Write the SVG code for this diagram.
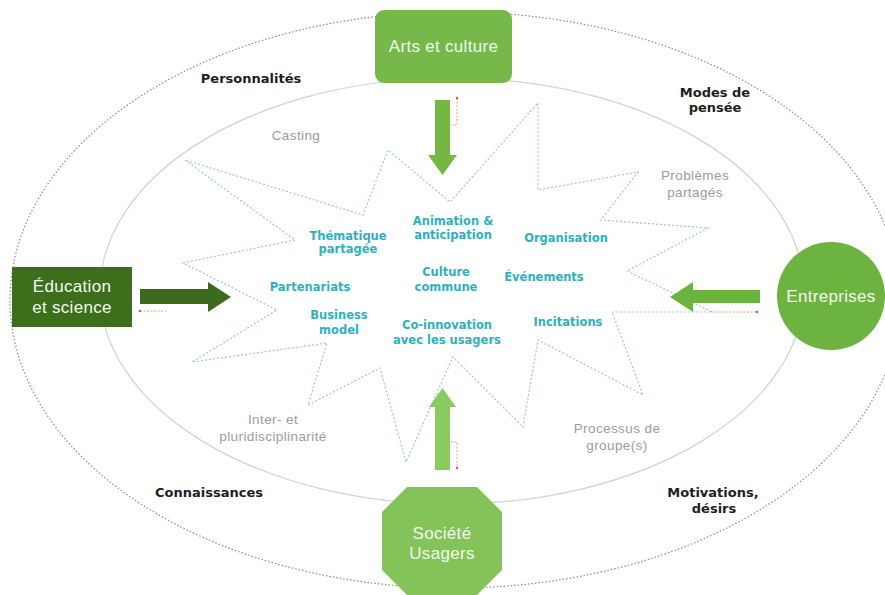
<svg xmlns="http://www.w3.org/2000/svg" width="885" height="595" viewBox="0 0 885 595">
<style>
.teal{font-family:"DejaVu Sans",Verdana,sans-serif;font-weight:bold;font-size:11.5px;fill:#2fb0bd;text-anchor:middle}
.gray{font-family:"Liberation Sans",Arial,sans-serif;font-size:13.5px;letter-spacing:0.4px;fill:#9c9c9c;text-anchor:middle}
.blk{font-family:"DejaVu Sans",Verdana,sans-serif;font-weight:bold;font-size:13px;fill:#1e1e1e;text-anchor:middle}
.node{font-family:"Liberation Sans",Arial,sans-serif;font-size:17px;letter-spacing:0.3px;fill:#f3faee;text-anchor:middle}
.stub{fill:none;stroke:#e9a07a;stroke-width:1;stroke-dasharray:2 1.5}
.dot{fill:#d9534f}
</style>
<rect width="885" height="595" fill="#ffffff"/>
<g id="outer-ring">
<ellipse cx="455" cy="300" rx="445" ry="288" fill="none" stroke="#8c8c8c" stroke-width="1.2" stroke-dasharray="1.5 2"/>
</g>
<g id="inner-ring">
<ellipse cx="452" cy="291" rx="352" ry="213" fill="none" stroke="#d2d2d2" stroke-width="1.2"/>
</g>
<g id="star">
<polygon points="183,263 295,240 185,160 363,215 388,150 450,202 538,103 538,190 638,172 601,220 708,228 627,271 712,312 612,312 643,395 538,340 523,427 453,357 406,462 380,368 308,405 327,343 192,362 277,310" fill="none" stroke="#9cc7d2" stroke-width="1.2" stroke-dasharray="2 2"/>
</g>
<g id="labels-outer">
<text class="blk" x="251" y="83">Personnalités</text>
<text class="blk" x="715" y="97">Modes de</text>
<text class="blk" x="715" y="112">pensée</text>
<text class="blk" x="209" y="497">Connaissances</text>
<text class="blk" x="713" y="497">Motivations,</text>
<text class="blk" x="714" y="513">désirs</text>
</g>
<g id="labels-ring">
<text class="gray" x="296" y="140">Casting</text>
<text class="gray" x="695" y="180">Problèmes</text>
<text class="gray" x="695" y="197">partagés</text>
<text class="gray" x="273" y="424">Inter- et</text>
<text class="gray" x="273" y="441">pluridisciplinarité</text>
<text class="gray" x="617" y="433">Processus de</text>
<text class="gray" x="617" y="450">groupe(s)</text>
</g>
<g id="labels-star">
<text class="teal" x="348" y="240">Thématique</text>
<text class="teal" x="348" y="253">partagée</text>
<text class="teal" x="453" y="225">Animation &amp;</text>
<text class="teal" x="453" y="239">anticipation</text>
<text class="teal" x="566" y="242">Organisation</text>
<text class="teal" x="446" y="276">Culture</text>
<text class="teal" x="446" y="291">commune</text>
<text class="teal" x="544" y="281">Événements</text>
<text class="teal" x="310" y="291">Partenariats</text>
<text class="teal" x="339" y="319">Business</text>
<text class="teal" x="339" y="334">model</text>
<text class="teal" x="447" y="329">Co-innovation</text>
<text class="teal" x="447" y="344">avec les usagers</text>
<text class="teal" x="568" y="326">Incitations</text>
</g>
<g id="connectors">
<polygon points="435,100 450,100 450,155 457,155 442.5,175 428,155 435,155" fill="#74b843"/>
<polygon points="140,289 208,289 208,282 231,297 208,312 208,304 140,304" fill="#3d6b1e"/>
<polygon points="760,290 693,290 693,282 670,297 693,312 693,303 760,303" fill="#6ab43e"/>
<polygon points="435,470 450,470 450,407 456,407 442.5,388 429,407 435,407" fill="#8acb60"/>
<polyline class="stub" points="457,98 457,125 451,125"/>
<circle class="dot" cx="457" cy="98" r="1.2"/>
<polyline class="stub" points="140,311 167,311"/>
<circle class="dot" cx="140" cy="311" r="1.2"/>
<polyline class="stub" points="712,312 757,312"/>
<circle class="dot" cx="757" cy="312" r="1.2"/>
<polyline class="stub" points="451,442 457,442 457,468"/>
<circle class="dot" cx="457" cy="468" r="1.2"/>
</g>
<g id="arts-et-culture">
<rect x="375" y="10" width="137" height="73" rx="9" fill="#76b94a"/>
<text class="node" x="443.5" y="52">Arts et culture</text>
</g>
<g id="education-et-science">
<rect x="12" y="267" width="120" height="60" fill="#3c6e1c"/>
<text class="node" x="72" y="292">Éducation</text>
<text class="node" x="72" y="313">et science</text>
</g>
<g id="entreprises">
<circle cx="831" cy="296" r="54" fill="#6db33f"/>
<text class="node" x="831" y="302">Entreprises</text>
</g>
<g id="societe-usagers">
<polygon points="407,487 477,487 502,512 502,570 477,595 407,595 382,570 382,512" fill="#84c25a"/>
<text class="node" x="442" y="539">Société</text>
<text class="node" x="442" y="559">Usagers</text>
</g>
</svg>
